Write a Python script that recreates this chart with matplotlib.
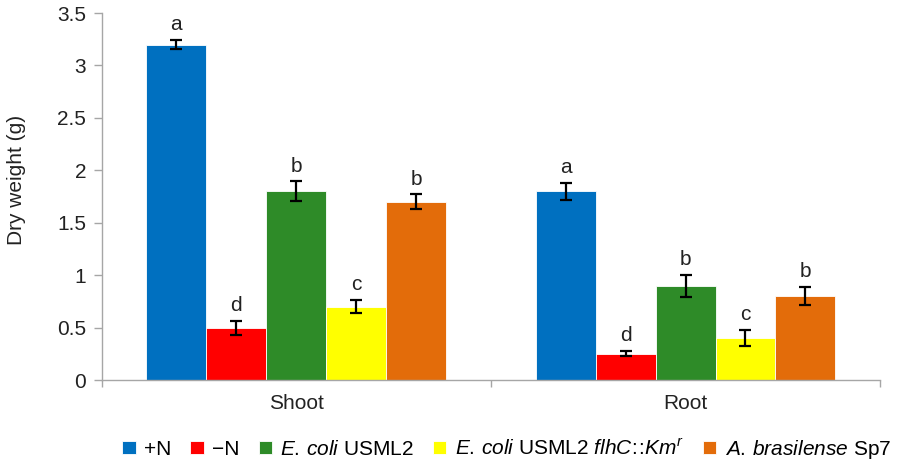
import matplotlib
matplotlib.use("Agg")
import matplotlib.pyplot as plt
import numpy as np

plt.rcParams['font.family'] = ['Liberation Sans', 'DejaVu Sans']
plt.rcParams['mathtext.fontset'] = 'custom'
plt.rcParams['mathtext.rm'] = 'Liberation Sans'
plt.rcParams['mathtext.it'] = 'Liberation Sans:italic'

groups = ["Shoot", "Root"]
series = ["+N", "\u2212N", r"$\it{E.\,coli}$ USML2",
          r"$\it{E.\,coli}$ USML2 $\it{flhC}\!:\!\!:\!\it{Km}^{r}$",
          r"$\it{A.\,brasilense}$ Sp7"]
values = {
    "+N": [3.2, 1.8],
    "-N": [0.5, 0.25],
    "Ecoli": [1.8, 0.9],
    "Ecoli_flhC": [0.7, 0.4],
    "Abras": [1.7, 0.8],
}
errors = {
    "+N": [0.045, 0.08],
    "-N": [0.067, 0.025],
    "Ecoli": [0.095, 0.105],
    "Ecoli_flhC": [0.065, 0.08],
    "Abras": [0.07, 0.086],
}
letters = {
    "+N": ["a", "a"],
    "-N": ["d", "d"],
    "Ecoli": ["b", "b"],
    "Ecoli_flhC": ["c", "c"],
    "Abras": ["b", "b"],
}
keys = ["+N", "-N", "Ecoli", "Ecoli_flhC", "Abras"]
colors = ["#0070C0", "#FF0000", "#2E8B28", "#FFFF00", "#E36C0A"]

FS = 15
TXT = '#222222'
fig = plt.figure(figsize=(9, 4.66), dpi=100)
ax = fig.add_axes([0.1128, 0.1845, 0.978 - 0.1128, 0.972 - 0.1845])

x = np.arange(len(groups))
w = 0.154
for i, k in enumerate(keys):
    pos = x + (i - 2) * w
    ax.bar(pos, values[k], width=w, color=colors[i], edgecolor='white',
           linewidth=0.6, label=series[i], zorder=2)
    ax.errorbar(pos, values[k], yerr=errors[k], fmt='none', ecolor='black',
                elinewidth=1.6, capsize=4.5, capthick=1.6, zorder=3)
    for p, v, e, l in zip(pos, values[k], errors[k], letters[k]):
        ax.annotate(l, (p, v + e), xytext=(0, 7), textcoords='offset points',
                    ha='center', va='baseline', fontsize=FS, color=TXT)

ax.set_xlim(-0.5, 1.5)
ax.set_ylim(0, 3.5)
ax.set_yticks(np.arange(0, 3.51, 0.5))
ax.set_yticklabels(["0", "0.5", "1", "1.5", "2", "2.5", "3", "3.5"])
ax.set_xticks([-0.5, 0.5, 1.5], minor=False)
ax.set_xticklabels(["", "", ""])
ax.set_xticks(x, minor=True)
ax.set_xticklabels(groups, minor=True)
ax.tick_params(axis='x', which='minor', length=0, labelsize=FS, pad=10, labelcolor=TXT)
ax.tick_params(axis='x', which='major', length=5, color='#A6A6A6', width=1)
ax.tick_params(axis='y', length=6, color='#A6A6A6', width=1, labelsize=FS,
               labelcolor=TXT, pad=5)
for s in ['top', 'right']:
    ax.spines[s].set_visible(False)
for s in ['left', 'bottom']:
    ax.spines[s].set_color('#A6A6A6')
    ax.spines[s].set_linewidth(1)
ax.set_ylabel("Dry weight (g)", fontsize=FS, color=TXT)
ax.yaxis.set_label_coords(-0.097, 0.545)

h, lab = ax.get_legend_handles_labels()
fig.legend(h, lab, loc='center', bbox_to_anchor=(0.563, 0.036), ncol=5,
           frameon=False, fontsize=FS, handlelength=0.65, handleheight=0.6,
           handletextpad=0.4, columnspacing=0.9)

fig.savefig("out.png", dpi=100)
